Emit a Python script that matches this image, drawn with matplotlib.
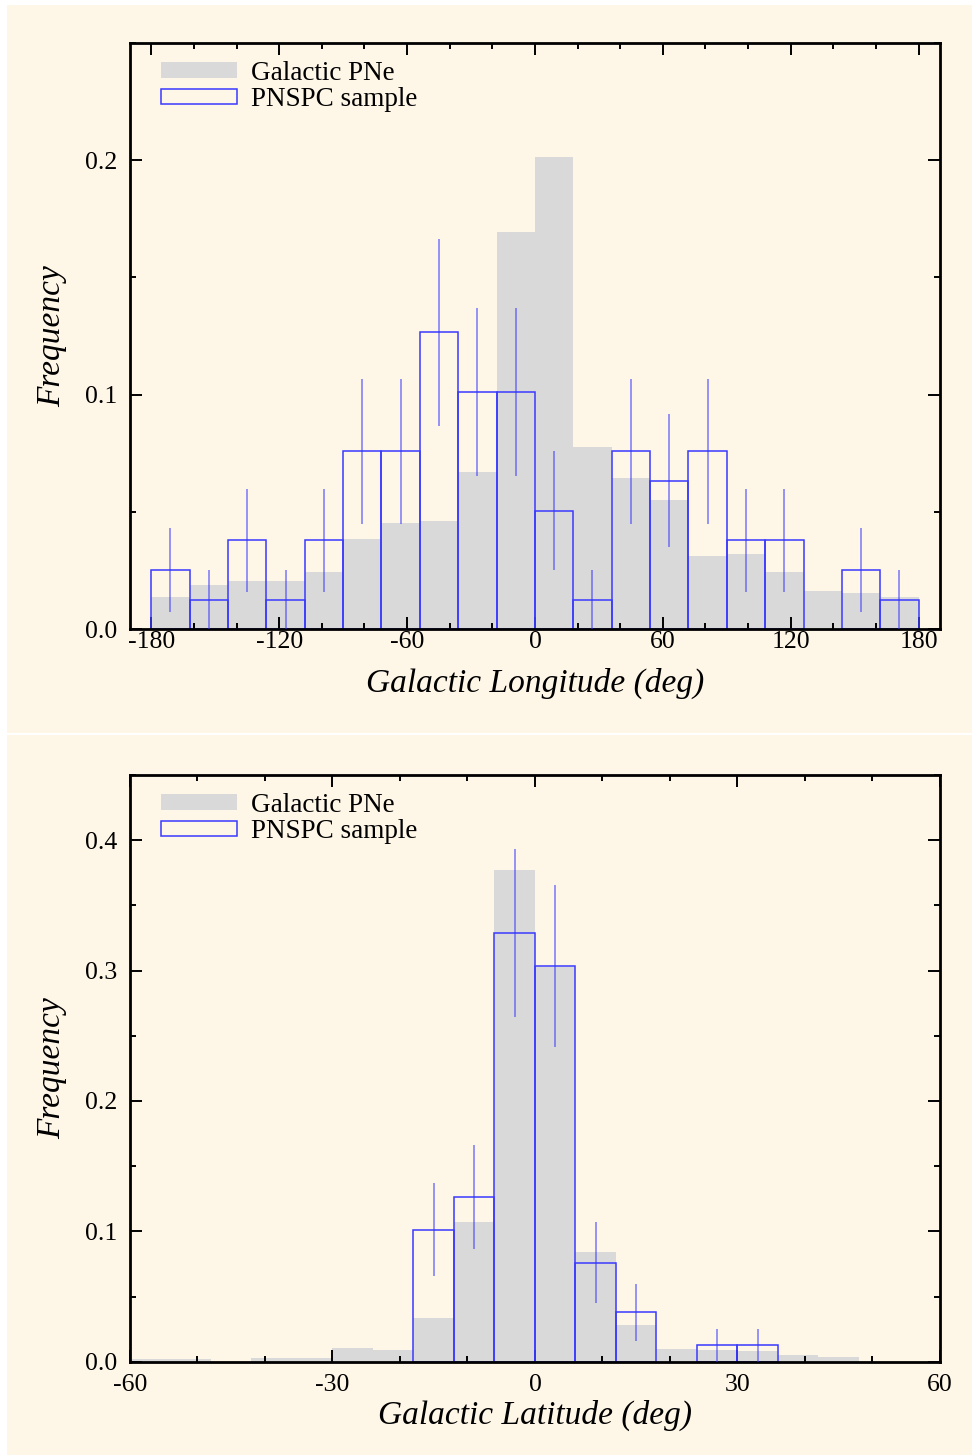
import numpy as np
import matplotlib
matplotlib.use("Agg")
import matplotlib.pyplot as plt
from matplotlib.patches import Rectangle
from matplotlib.ticker import MultipleLocator, FormatStrFormatter

plt.rcParams['font.family'] = ['Liberation Serif', 'DejaVu Serif']
plt.rcParams['axes.unicode_minus'] = False

# Galactic longitude histogram (bins of 18 deg from -180 to 180)
lon_bins = np.linspace(-180, 180, 21)
lon_all_pne = [0.0138, 0.0189, 0.0208, 0.0208, 0.0244, 0.0385, 0.0453, 0.0463,
               0.0672, 0.1694, 0.2013, 0.0779, 0.0647, 0.0550, 0.0313, 0.0323,
               0.0244, 0.0165, 0.0155, 0.0138]
lon_pnspc = [0.0253, 0.0127, 0.0380, 0.0127, 0.0380, 0.0759, 0.0759, 0.1266,
             0.1013, 0.1013, 0.0506, 0.0127, 0.0759, 0.0633, 0.0759, 0.0380,
             0.0380, 0.0, 0.0253, 0.0127]
lon_pnspc_err = [0.0179, 0.0127, 0.0219, 0.0127, 0.0219, 0.0310, 0.0310, 0.0400,
                 0.0358, 0.0358, 0.0253, 0.0127, 0.0310, 0.0283, 0.0310, 0.0219,
                 0.0219, 0.0, 0.0179, 0.0127]

# Galactic latitude histogram (bins of 6 deg from -60 to 60)
lat_bins = np.linspace(-60, 60, 21)
lat_all_pne = [0.0018, 0.0018, 0.0, 0.0026, 0.0026, 0.0103, 0.0090, 0.0335,
               0.1070, 0.3773, 0.3030, 0.0842, 0.0282, 0.0097, 0.0090, 0.0080,
               0.0054, 0.0036, 0.0, 0.0]
lat_pnspc = [0.0, 0.0, 0.0, 0.0, 0.0, 0.0, 0.0, 0.1013,
             0.1266, 0.3291, 0.3038, 0.0759, 0.0380, 0.0, 0.0127, 0.0127,
             0.0, 0.0, 0.0, 0.0]
lat_pnspc_err = [0.0, 0.0, 0.0, 0.0, 0.0, 0.0, 0.0, 0.0358,
                 0.0400, 0.0645, 0.0620, 0.0310, 0.0219, 0.0, 0.0127, 0.0127,
                 0.0, 0.0, 0.0, 0.0]

cream = '#fef6e7'
gray = '#d9d9d9'
blue = '#3a3aff'


def draw_hist(ax, bins, all_pne, sample, err, xlabel, xpad):
    bins = np.asarray(bins)
    left = bins[:-1]
    width = np.diff(bins)
    centers = left + width / 2
    sample = np.asarray(sample)
    err = np.asarray(err)
    nz = sample > 0

    ax.bar(left, all_pne, width=width, align='edge', color=gray,
           linewidth=0, label='Galactic PNe', zorder=1)
    ax.bar(left[nz], sample[nz], width=width[nz], align='edge',
           facecolor='none', edgecolor=blue, linewidth=1.1,
           label='PNSPC sample', zorder=2)
    ax.errorbar(centers[nz], sample[nz], yerr=err[nz], fmt='none',
                ecolor=(0.2, 0.2, 1.0, 0.6), elinewidth=1.2, capsize=0,
                zorder=3)

    ax.set_facecolor('none')
    for sp in ax.spines.values():
        sp.set_linewidth(2.0)
    ax.tick_params(which='both', direction='in', top=True, right=True,
                   width=1.4, labelsize=18.5)
    ax.tick_params(which='major', length=8.5)
    ax.tick_params(which='minor', length=4)
    ax.tick_params(axis='x', pad=xpad)
    ax.tick_params(axis='y', pad=9)
    ax.yaxis.set_major_locator(MultipleLocator(0.1))
    ax.yaxis.set_minor_locator(MultipleLocator(0.05))
    ax.yaxis.set_major_formatter(FormatStrFormatter('%.1f'))

    ax.set_xlabel(xlabel, fontsize=24, style='italic')
    ax.set_ylabel('Frequency', fontsize=24, style='italic')
    ax.yaxis.set_label_coords(-0.077, 0.5)

    leg = ax.legend(loc='upper left', bbox_to_anchor=(0.038, 0.970),
                    frameon=False, fontsize=19.5, borderpad=0,
                    borderaxespad=0, handlelength=2.8, handleheight=0.5,
                    handletextpad=0.55, labelspacing=0.05)
    return leg


fig = plt.figure(figsize=(9.72, 14.55), dpi=100, facecolor='white')
fig.patches.append(Rectangle((7 / 972, 1 - 733 / 1455), 1, 728 / 1455,
                             transform=fig.transFigure, facecolor=cream,
                             edgecolor='none', zorder=-10))
fig.patches.append(Rectangle((7 / 972, 0), 1, 720 / 1455,
                             transform=fig.transFigure, facecolor=cream,
                             edgecolor='none', zorder=-10))

ax1 = fig.add_axes([0.1337, 0.5675, 0.8333, 0.4030])
draw_hist(ax1, lon_bins, lon_all_pne, lon_pnspc, lon_pnspc_err,
          'Galactic Longitude (deg)', 1.5)
ax1.set_xlim(-190, 190)
ax1.set_ylim(0, 0.25)
ax1.xaxis.set_major_locator(MultipleLocator(60))
ax1.xaxis.set_minor_locator(MultipleLocator(20))
ax1.xaxis.set_label_coords(0.5, -0.066)

ax2 = fig.add_axes([0.1337, 0.0641, 0.8333, 0.4032])
draw_hist(ax2, lat_bins, lat_all_pne, lat_pnspc, lat_pnspc_err,
          'Galactic Latitude (deg)', 8.5)
ax2.set_xlim(-60, 60)
ax2.set_ylim(0, 0.45)
ax2.xaxis.set_major_locator(MultipleLocator(30))
ax2.xaxis.set_minor_locator(MultipleLocator(10))
ax2.xaxis.set_label_coords(0.5, -0.065)

fig.savefig('out.png', dpi=100, facecolor='white')
